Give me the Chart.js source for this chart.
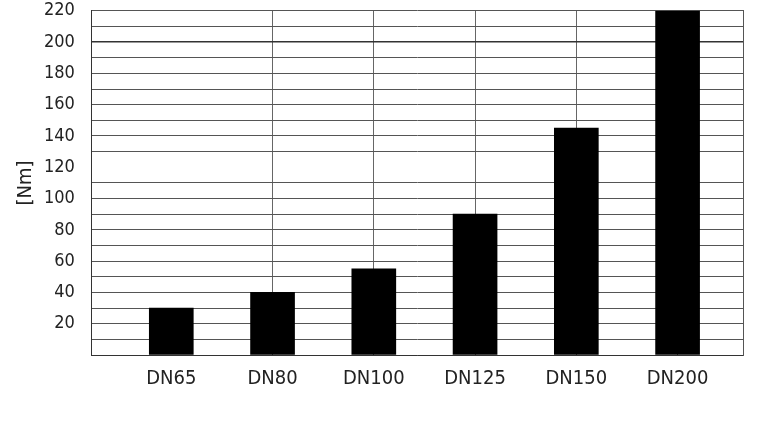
<!DOCTYPE html>
<html>
<head>
<meta charset="utf-8">
<script src="https://cdn.jsdelivr.net/npm/chart.js@4"></script>
<style>
  html, body { margin: 0; padding: 0; background: #fff; }
  #wrap { width: 768px; height: 422px; }
</style>
</head>
<body>
<div id="wrap"><canvas id="c" width="768" height="422"></canvas></div>
<script>
const categories = ['DN65', 'DN80', 'DN100', 'DN125', 'DN150', 'DN200'];
const torqueNm = [30, 40, 55, 90, 145, 220];
const yTickLabelsEvery = 20;
const yAxisTitle = '[Nm]';

const FONT = "'DejaVu Sans Condensed', 'Liberation Sans Narrow', sans-serif";

new Chart(document.getElementById('c'), {
  type: 'bar',
  data: {
    datasets: [{
      data: categories.map((c, i) => ({ x: i, y: torqueNm[i] })),
      backgroundColor: '#000',
      borderWidth: 0,
      barThickness: 44
    }]
  },
  options: {
    responsive: false,
    animation: false,
    layout: { padding: { left: 10, right: 25, top: 0, bottom: 19 } },
    plugins: { legend: { display: false }, tooltip: { enabled: false } },
    scales: {
      x: {
        type: 'linear',
        min: -0.784,
        max: 5.646,
        offset: false,
        ticks: {
          stepSize: 1,
          includeBounds: false,
          autoSkip: false,
          maxRotation: 0,
          padding: 12,
          color: '#222',
          font: { family: FONT, size: 20 },
          callback: v => (Number.isInteger(v) && categories[v]) ? categories[v] : ''
        },
        grid: {
          offset: false,
          drawTicks: false,
          color: ctx => (ctx.tick && ctx.tick.value === 0) ? 'rgba(0,0,0,0)' : '#666',
          lineWidth: 1
        },
        border: { display: true, color: '#333', width: 1 }
      },
      y: {
        min: 0,
        max: 220,
        ticks: {
          stepSize: 10,
          autoSkip: false,
          maxTicksLimit: 40,
          padding: 0,
          color: '#222',
          font: { family: FONT, size: 18 },
          callback: v => (v > 0 && v % yTickLabelsEvery === 0) ? String(v) : ''
        },
        grid: {
          drawTicks: true,
          tickLength: 17,
          tickColor: 'rgba(0,0,0,0)',
          color: ctx => {
            const v = ctx.tick && ctx.tick.value;
            if (v === 120) return 'rgba(0,0,0,0)';
            if (v === 200) return '#333';
            return '#555';
          },
          lineWidth: ctx => (ctx.tick && ctx.tick.value === 200) ? 1.4 : 1
        },
        border: { display: true, color: '#333', width: 1 },
        title: {
          display: true,
          text: yAxisTitle,
          color: '#222',
          font: { family: FONT, size: 20 },
          padding: { top: 4, bottom: 6 }
        }
      },
      y2: {
        position: 'right',
        min: 0,
        max: 220,
        ticks: { display: false },
        grid: { display: false, drawTicks: false },
        border: { display: true, color: '#555', width: 1 }
      }
    }
  }
});
</script>
</body>
</html>
